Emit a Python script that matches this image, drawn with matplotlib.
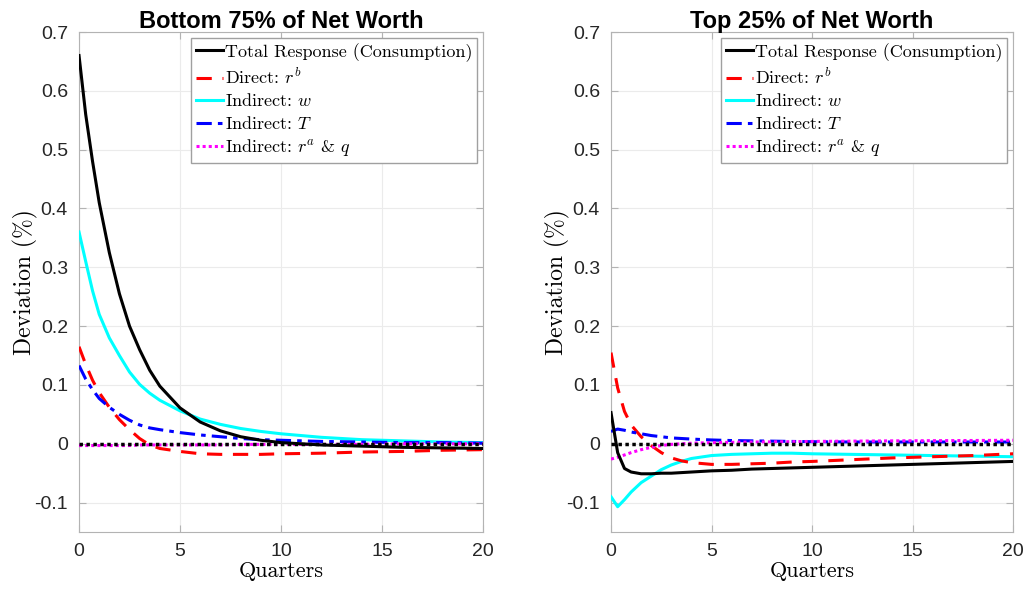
import numpy as np
import matplotlib.pyplot as plt
from matplotlib.ticker import FuncFormatter

plt.rcParams['mathtext.fontset'] = 'cm'
plt.rcParams['font.family'] = ['Liberation Sans', 'DejaVu Sans']
plt.rcParams['axes.unicode_minus'] = False

# quarters after the shock
quarters = [0, 0.33, 0.67, 1, 1.5, 2, 2.5, 3, 3.5, 4, 5, 6, 7, 8, 9, 10, 12, 14, 16, 18, 20]

# bottom 75% of net worth
bot_total = [0.66, 0.56, 0.48, 0.41, 0.325, 0.255, 0.20, 0.16, 0.125, 0.098, 0.061, 0.037,
             0.022, 0.012, 0.006, 0.002, -0.002, -0.004, -0.006, -0.007, -0.008]
bot_rb = [0.165, 0.135, 0.108, 0.087, 0.062, 0.041, 0.024, 0.009, -0.002, -0.008, -0.013,
          -0.017, -0.018, -0.018, -0.018, -0.017, -0.016, -0.014, -0.013, -0.011, -0.010]
bot_w = [0.36, 0.31, 0.26, 0.22, 0.18, 0.15, 0.122, 0.101, 0.086, 0.074, 0.056, 0.042,
         0.033, 0.026, 0.021, 0.017, 0.011, 0.007, 0.005, 0.003, 0.002]
bot_T = [0.133, 0.110, 0.092, 0.077, 0.062, 0.050, 0.040, 0.032, 0.027, 0.024, 0.019, 0.015,
         0.012, 0.009, 0.007, 0.006, 0.004, 0.003, 0.002, 0.002, 0.001]
bot_raq = [-0.003, -0.003, -0.003, -0.003, -0.003, -0.003, -0.003, -0.002, -0.002, -0.002,
           -0.002, -0.002, -0.002, -0.001, -0.001, -0.001, -0.001, -0.001, 0.0, 0.0, 0.0]

# top 25% of net worth
top_total = [0.053, -0.015, -0.042, -0.048, -0.051, -0.051, -0.050, -0.050, -0.049, -0.048,
             -0.046, -0.045, -0.043, -0.042, -0.041, -0.040, -0.038, -0.036, -0.034, -0.032, -0.030]
top_rb = [0.155, 0.095, 0.055, 0.032, 0.012, -0.003, -0.015, -0.024, -0.029, -0.032, -0.035,
          -0.035, -0.034, -0.033, -0.031, -0.030, -0.027, -0.024, -0.022, -0.020, -0.017]
top_w = [-0.090, -0.107, -0.095, -0.082, -0.066, -0.055, -0.044, -0.036, -0.030, -0.025, -0.020,
         -0.018, -0.017, -0.016, -0.016, -0.017, -0.018, -0.019, -0.020, -0.021, -0.022]
top_T = [0.021, 0.025, 0.023, 0.020, 0.017, 0.014, 0.012, 0.010, 0.009, 0.008, 0.0065, 0.0055,
         0.005, 0.0045, 0.004, 0.0035, 0.003, 0.003, 0.003, 0.003, 0.003]
top_raq = [-0.026, -0.023, -0.019, -0.015, -0.010, -0.006, -0.003, -0.001, 0.0, 0.001, 0.002,
           0.0025, 0.003, 0.0033, 0.0036, 0.004, 0.0045, 0.005, 0.0053, 0.0056, 0.006]

titles = ['Bottom 75% of Net Worth', 'Top 25% of Net Worth']
labels = ['Total Response (Consumption)', 'Direct: $r^b$', 'Indirect: $w$',
          'Indirect: $T$', 'Indirect: $r^a$ & $q$']

fig = plt.figure(figsize=(10.29, 5.91), dpi=100)
ax1 = fig.add_axes([0.0768, 0.0998, 0.3926, 0.846])
ax2 = fig.add_axes([0.5938, 0.0998, 0.3907, 0.846])

def fmt(v, pos):
    s = '%g' % round(v, 2)
    return s

for ax, title, series in [(ax1, titles[0], (bot_total, bot_rb, bot_w, bot_T, bot_raq)),
                          (ax2, titles[1], (top_total, top_rb, top_w, top_T, top_raq))]:
    total, rb, w, T, raq = series
    ax.plot(quarters, total, color='k', lw=2.2, label=labels[0], zorder=5)
    ax.plot(quarters, rb, color='r', lw=2.2, dashes=(5, 3.5), label=labels[1], zorder=4)
    ax.plot(quarters, w, color='cyan', lw=2.2, label=labels[2], zorder=3)
    ax.plot(quarters, T, color='b', lw=2.2, dashes=(5, 2, 1.5, 2), label=labels[3], zorder=4)
    ax.plot(quarters, raq, color='magenta', lw=2.2, dashes=(1, 1), label=labels[4], zorder=4)
    ax.axhline(0, color='k', lw=2.5, dashes=(1, 1), zorder=6)

    ax.set_xlim(0, 20)
    ax.set_ylim(-0.15, 0.7)
    ax.set_xticks([0, 5, 10, 15, 20])
    ax.set_yticks(np.arange(-0.1, 0.71, 0.1))
    ax.yaxis.set_major_formatter(FuncFormatter(fmt))
    ax.grid(True, color='#ebebeb', lw=0.8)
    ax.set_axisbelow(True)
    for sp in ax.spines.values():
        sp.set_color('#b3b3b3')
    ax.tick_params(direction='in', length=5, color='#b3b3b3', labelcolor='#262626',
                   labelsize=14, top=True, right=True, pad=8)
    ax.set_title(title, fontsize=17, fontweight='bold', pad=3)
    ax.set_xlabel('Quarters', fontsize=16, family='cmr10', labelpad=1)
    ax.set_ylabel('Deviation (%)', fontsize=17, family='cmr10', labelpad=-3)
    leg = ax.legend(loc='upper right', prop={'family': 'cmr10', 'size': 13},
                    handlelength=1.5, handletextpad=0.1,
                    borderaxespad=0.35, borderpad=0.25, labelspacing=0.3, fancybox=False,
                    framealpha=1)
    leg.get_frame().set_edgecolor('#a0a0a0')
    leg.get_frame().set_linewidth(1.0)

fig.savefig('out.png', dpi=100)
